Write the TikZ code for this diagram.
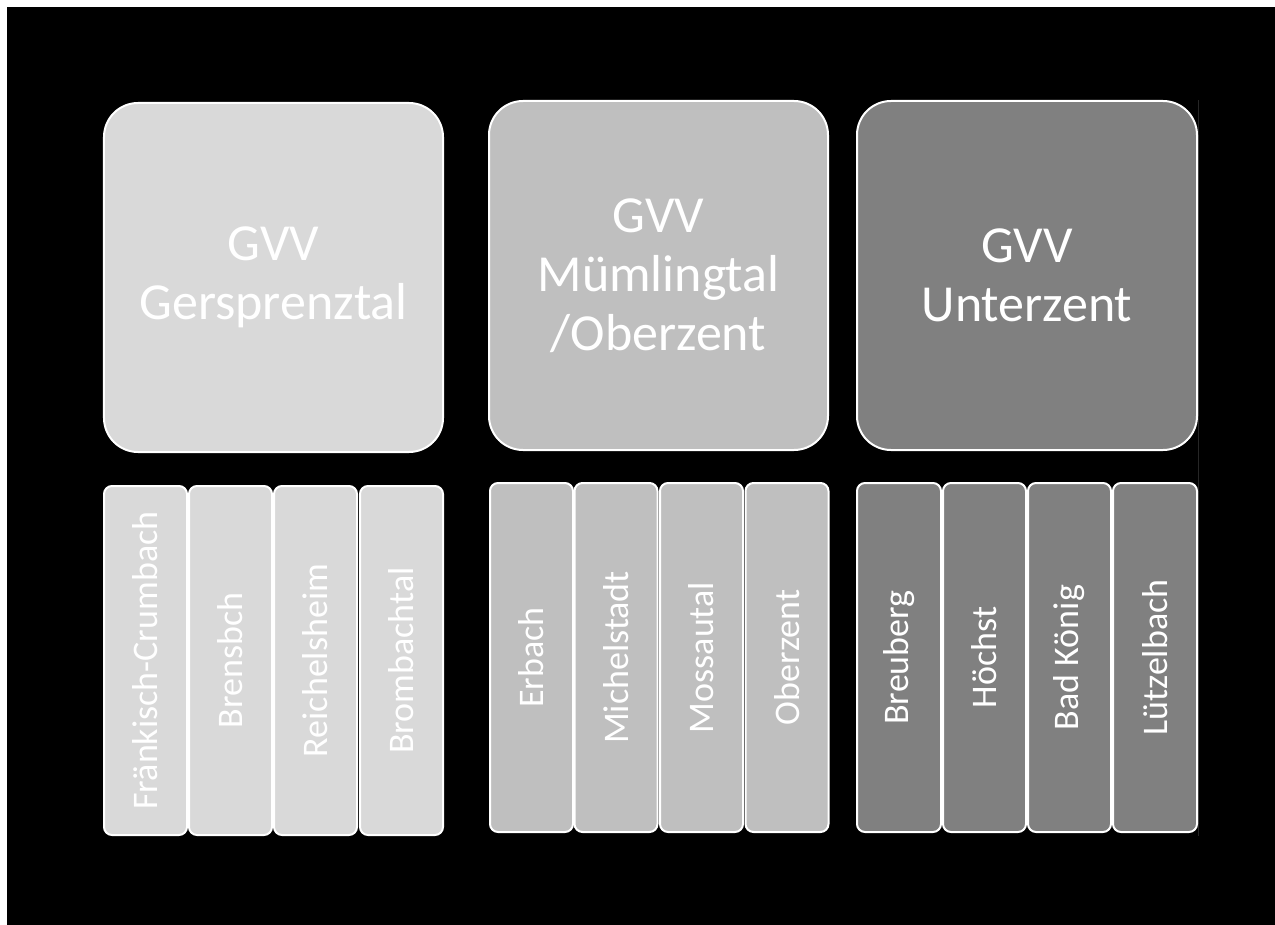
\documentclass[tikz,border=0pt]{standalone}
\usepackage{fontspec}
\setmainfont{Carlito}
\definecolor{gA}{HTML}{D9D9D9}
\definecolor{gB}{HTML}{BFBFBF}
\definecolor{gC}{HTML}{808080}
\definecolor{faint}{HTML}{262626}
\tikzset{
  bigbox/.style={draw=white, line width=2bp, rounded corners=34bp, text=white,
    inner sep=0pt, minimum width=339bp, minimum height=349bp, align=center,
    font=\fontsize{52bp}{59bp}\selectfont},
  smallbox/.style={draw=white, line width=2bp, rounded corners=8bp, text=white,
    inner sep=0pt, rotate=90, minimum width=349bp, minimum height=83bp,
    font=\fontsize{36bp}{40bp}\selectfont}
}
\begin{document}
\begin{tikzpicture}[x=1bp,y=-1bp]
\useasboundingbox (0,0) rectangle (1275,925);
\fill[white] (-5,-5) rectangle (1285,935);
\fill[black] (7,7) rectangle (1285,935);
\draw[faint, line width=0.8bp] (1198,100) -- (1198,836);
% big boxes
\node[bigbox, fill=gA] (g1) at (273.5,277.5) {GVV\\Gersprenztal};
\node[bigbox, fill=gB] (g2) at (658.5,275.5) {GVV\\Mümlingtal\\/Oberzent};
\node[bigbox, fill=gC, minimum width=340bp] (g3) at (1027,275.5) {GVV\\Unterzent};
% group 1
\node[smallbox, fill=gA] (a1) at (145.5,660.5) {Fränkisch-Crumbach};
\node[smallbox, fill=gA] (a2) at (230.5,660.5) {Brensbch};
\node[smallbox, fill=gA] (a3) at (315.5,660.5) {Reichelsheim};
\node[smallbox, fill=gA] (a4) at (401.5,660.5) {Brombachtal};
% group 2
\node[smallbox, fill=gB] (b1) at (531.5,657.5) {Erbach};
\node[smallbox, fill=gB] (b2) at (616,657.5) {Michelstadt};
\node[smallbox, fill=gB] (b3) at (701.5,657.5) {Mossautal};
\node[smallbox, fill=gB] (b4) at (787,657.5) {Oberzent};
% group 3
\node[smallbox, fill=gC, minimum height=84bp] (c1) at (899,657.5) {Breuberg};
\node[smallbox, fill=gC] (c2) at (984.5,657.5) {Höchst};
\node[smallbox, fill=gC] (c3) at (1069.5,657.5) {Bad König};
\node[smallbox, fill=gC, minimum height=84bp] (c4) at (1155,657.5) {Lützelbach};
\end{tikzpicture}
\end{document}
